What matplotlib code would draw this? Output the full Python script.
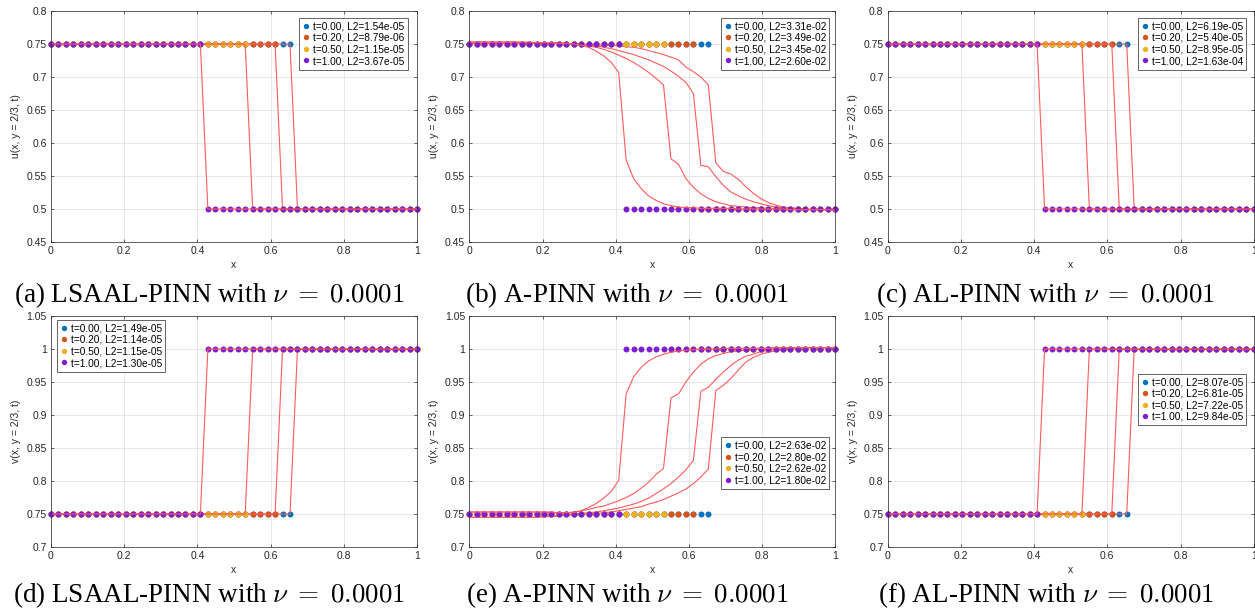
import matplotlib.pyplot as plt
import numpy as np
from matplotlib.ticker import FuncFormatter

plt.rcParams['font.family'] = ['Liberation Sans', 'DejaVu Sans']
plt.rcParams['mathtext.fontset'] = 'cm'

# sample grid and times
x = np.linspace(0, 1, 50)
times = [0.0, 0.2, 0.5, 1.0]
colors = ['#0072BD', '#D95319', '#EDB120', '#7E1ED4']

# exact solution: number of grid points still on the left state
n_left = [33, 31, 27, 21]
u_left, u_right = 0.75, 0.5
v_left, v_right = 0.75, 1.0

# L2 errors shown in legends
l2_lsaal_u = ['1.54e-05', '8.79e-06', '1.15e-05', '3.67e-05']
l2_apinn_u = ['3.31e-02', '3.49e-02', '3.45e-02', '2.60e-02']
l2_alpinn_u = ['6.19e-05', '5.40e-05', '8.95e-05', '1.63e-04']
l2_lsaal_v = ['1.49e-05', '1.14e-05', '1.15e-05', '1.30e-05']
l2_apinn_v = ['2.63e-02', '2.80e-02', '2.62e-02', '1.80e-02']
l2_alpinn_v = ['8.07e-05', '6.81e-05', '7.22e-05', '9.84e-05']

# A-PINN predictions, one list per time
apinn_u = [
    [0.751, 0.751, 0.751, 0.751, 0.751, 0.751, 0.751, 0.751, 0.751, 0.751,
     0.751, 0.751, 0.751, 0.750, 0.750, 0.750, 0.749, 0.749, 0.748, 0.748,
     0.747, 0.746, 0.745, 0.743, 0.740, 0.737, 0.734, 0.730, 0.726, 0.715,
     0.708, 0.700, 0.688, 0.570, 0.557, 0.553, 0.545, 0.534, 0.524, 0.516,
     0.510, 0.506, 0.503, 0.502, 0.501, 0.500, 0.499, 0.499, 0.499, 0.498],
    [0.751, 0.751, 0.751, 0.751, 0.751, 0.751, 0.751, 0.751, 0.751, 0.751,
     0.751, 0.751, 0.751, 0.750, 0.750, 0.749, 0.748, 0.747, 0.745, 0.743,
     0.740, 0.737, 0.734, 0.730, 0.726, 0.721, 0.716, 0.709, 0.701, 0.692,
     0.675, 0.566, 0.564, 0.549, 0.536, 0.526, 0.520, 0.515, 0.511, 0.508,
     0.505, 0.503, 0.502, 0.501, 0.500, 0.500, 0.499, 0.499, 0.499, 0.498],
    [0.753, 0.753, 0.753, 0.753, 0.753, 0.753, 0.753, 0.752, 0.752, 0.752,
     0.752, 0.752, 0.752, 0.751, 0.750, 0.749, 0.747, 0.745, 0.742, 0.738,
     0.733, 0.728, 0.722, 0.715, 0.707, 0.698, 0.688, 0.576, 0.568, 0.546,
     0.533, 0.523, 0.516, 0.511, 0.508, 0.505, 0.504, 0.503, 0.502, 0.502,
     0.501, 0.501, 0.500, 0.500, 0.500, 0.499, 0.499, 0.499, 0.499, 0.498],
    [0.753, 0.753, 0.753, 0.753, 0.753, 0.753, 0.753, 0.753, 0.753, 0.752,
     0.752, 0.752, 0.751, 0.751, 0.750, 0.748, 0.745, 0.739, 0.732, 0.722,
     0.707, 0.574, 0.546, 0.531, 0.520, 0.513, 0.508, 0.505, 0.503, 0.502,
     0.502, 0.501, 0.501, 0.501, 0.501, 0.501, 0.500, 0.500, 0.500, 0.500,
     0.500, 0.500, 0.500, 0.499, 0.499, 0.499, 0.499, 0.499, 0.499, 0.498],
]
apinn_v = [
    [0.745, 0.745, 0.745, 0.745, 0.745, 0.745, 0.745, 0.745, 0.745, 0.745,
     0.746, 0.746, 0.747, 0.748, 0.749, 0.750, 0.750, 0.751, 0.752, 0.753,
     0.755, 0.757, 0.759, 0.761, 0.765, 0.768, 0.772, 0.777, 0.782, 0.788,
     0.796, 0.806, 0.818, 0.937, 0.945, 0.955, 0.968, 0.980, 0.987, 0.992,
     0.995, 0.997, 0.999, 1.000, 1.001, 1.002, 1.002, 1.002, 1.002, 1.002],
    [0.745, 0.745, 0.745, 0.745, 0.745, 0.745, 0.745, 0.745, 0.745, 0.745,
     0.746, 0.747, 0.748, 0.749, 0.750, 0.751, 0.752, 0.753, 0.755, 0.757,
     0.759, 0.762, 0.765, 0.769, 0.774, 0.781, 0.788, 0.796, 0.806, 0.817,
     0.831, 0.936, 0.942, 0.954, 0.965, 0.975, 0.983, 0.989, 0.992, 0.996,
     0.998, 0.999, 1.000, 1.001, 1.002, 1.002, 1.002, 1.002, 1.002, 1.002],
    [0.753, 0.753, 0.753, 0.753, 0.753, 0.753, 0.753, 0.753, 0.753, 0.753,
     0.753, 0.752, 0.752, 0.752, 0.753, 0.755, 0.757, 0.760, 0.762, 0.766,
     0.770, 0.775, 0.781, 0.789, 0.798, 0.810, 0.819, 0.926, 0.932, 0.950,
     0.965, 0.977, 0.985, 0.990, 0.993, 0.996, 0.997, 0.998, 0.999, 1.000,
     1.001, 1.002, 1.002, 1.002, 1.002, 1.002, 1.002, 1.002, 1.002, 1.002],
    [0.753, 0.753, 0.753, 0.753, 0.753, 0.753, 0.753, 0.753, 0.753, 0.753,
     0.753, 0.753, 0.752, 0.752, 0.752, 0.755, 0.760, 0.766, 0.774, 0.784,
     0.801, 0.932, 0.958, 0.972, 0.982, 0.988, 0.992, 0.995, 0.997, 0.998,
     0.999, 1.000, 1.000, 1.000, 1.001, 1.001, 1.001, 1.001, 1.001, 1.001,
     1.001, 1.002, 1.002, 1.002, 1.002, 1.002, 1.002, 1.002, 1.002, 1.002],
]


def step(n, left, right):
    return [left] * n + [right] * (len(x) - n)


u_exact = [step(n, u_left, u_right) for n in n_left]
v_exact = [step(n, v_left, v_right) for n in n_left]

nu = r'$\nu \;=\; 0.0001$'
panels = [
    # (row, col, exact, prediction, l2, ylabel, ylim, legend anchor, caption)
    (0, 0, u_exact, u_exact, l2_lsaal_u, 'u(x, y = 2/3, t)', (0.45, 0.8),
     ('upper right', (0.975, 0.97)), '(a) LSAAL-PINN with ' + nu),
    (0, 1, u_exact, apinn_u, l2_apinn_u, 'u(x, y = 2/3, t)', (0.45, 0.8),
     ('upper right', (0.984, 0.97)), '(b) A-PINN with ' + nu),
    (0, 2, u_exact, u_exact, l2_alpinn_u, 'u(x, y = 2/3, t)', (0.45, 0.8),
     ('upper right', (0.98, 0.97)), '(c) AL-PINN with ' + nu),
    (1, 0, v_exact, v_exact, l2_lsaal_v, 'v(x, y = 2/3, t)', (0.7, 1.05),
     ('upper left', (0.016, 0.983)), '(d) LSAAL-PINN with ' + nu),
    (1, 1, v_exact, apinn_v, l2_apinn_v, 'v(x, y = 2/3, t)', (0.7, 1.05),
     ('upper right', (0.984, 0.476)), '(e) A-PINN with ' + nu),
    (1, 2, v_exact, v_exact, l2_alpinn_v, 'v(x, y = 2/3, t)', (0.7, 1.05),
     ('upper right', (0.98, 0.751)), '(f) AL-PINN with ' + nu),
]

W, H = 1255, 611
fig = plt.figure(figsize=(W / 100, H / 100), dpi=100)
col_left = [51, 469.3, 887.7]
row_top = [11, 316]
ax_w, ax_h = 366, 231

edge = '#262626'
fmt = FuncFormatter(lambda v, p: '%g' % round(v, 4))

for row, col, exact, pred, l2, ylab, ylim, leg, caption in panels:
    ax = fig.add_axes([col_left[col] / W, (H - row_top[row] - ax_h) / H,
                       ax_w / W, ax_h / H])
    for k, t in enumerate(times):
        ax.plot(x, exact[k], 'o', ms=4.3, mec='none', color=colors[k],
                clip_on=False, label='t=%.2f, L2=%s' % (t, l2[k]))
        ax.plot(x, pred[k], '-', color='#ff5a5a', lw=0.8)
    ax.set_xlim(0, 1)
    ax.set_ylim(*ylim)
    ax.set_xticks(np.arange(0, 1.01, 0.2))
    ax.set_yticks(np.arange(ylim[0], ylim[1] + 0.001, 0.05))
    ax.xaxis.set_major_formatter(fmt)
    ax.yaxis.set_major_formatter(fmt)
    ax.grid(True, color='#e3e3e3', lw=0.6)
    ax.set_axisbelow(True)
    ax.tick_params(direction='in', length=2.5, width=0.5, labelsize=7.5,
                   colors=edge, top=True, right=True, pad=3)
    for s in ax.spines.values():
        s.set_color(edge)
        s.set_linewidth(0.5)
    ax.set_xlabel('x', fontsize=7.5, color=edge, labelpad=3)
    ax.set_ylabel(ylab, fontsize=7.5, color=edge, labelpad=4)
    lg = ax.legend(loc=leg[0], bbox_to_anchor=leg[1], borderaxespad=0,
                   fontsize=7.3, fancybox=False, framealpha=1,
                   edgecolor=edge, handlelength=0.7, handletextpad=0.3,
                   labelspacing=0.15, borderpad=0.35, markerscale=0.9)
    lg.get_frame().set_linewidth(0.5)
    fig.text((2 * col + 1) / 6, [0.517, 0.026][row], caption,
             ha='center', va='center', fontsize=19.5,
             family=['Liberation Serif', 'DejaVu Serif'])

fig.savefig('out.png', dpi=100)
